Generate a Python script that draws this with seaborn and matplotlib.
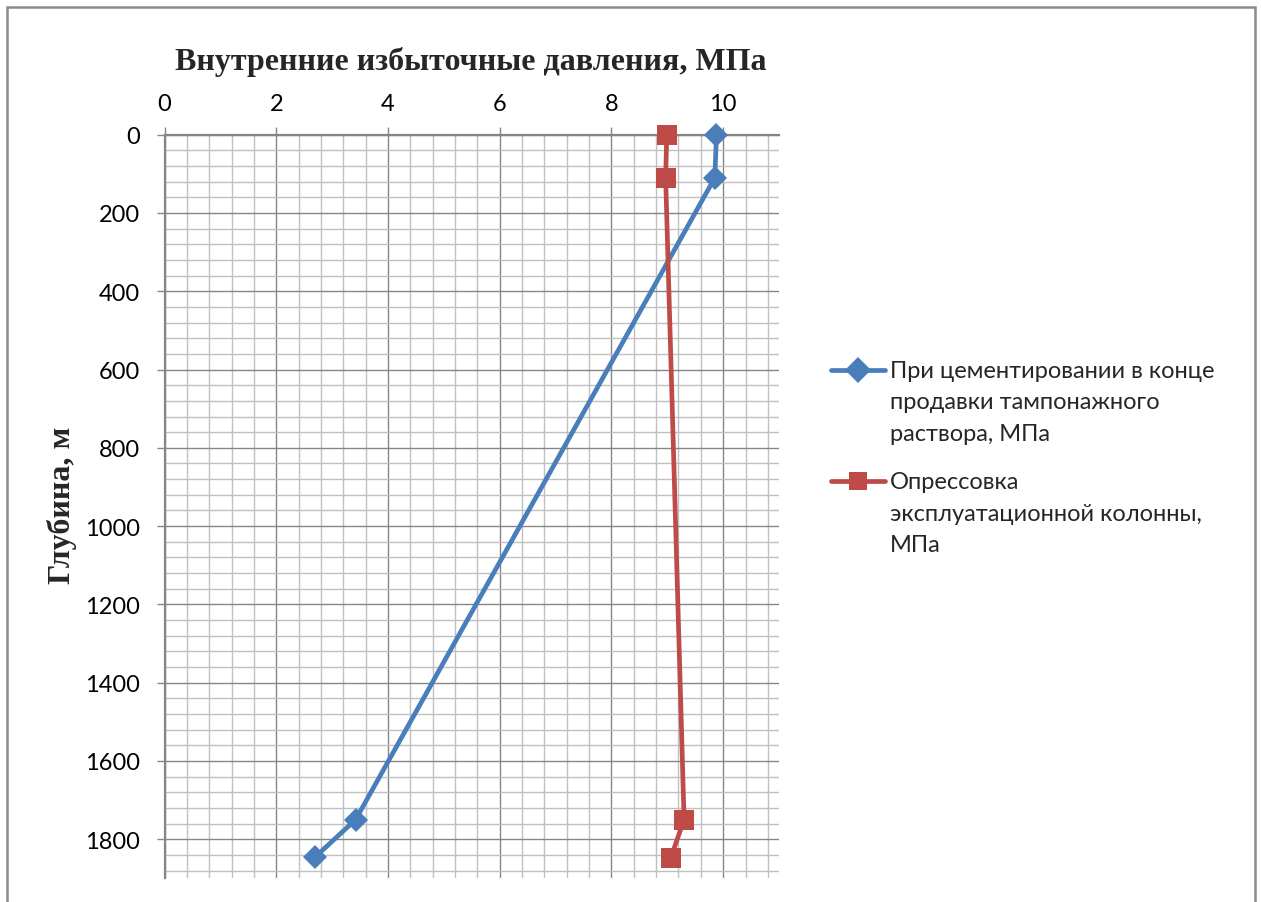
import numpy as np
import pandas as pd
import seaborn as sns
import matplotlib.pyplot as plt
from matplotlib.ticker import MultipleLocator
from matplotlib.patches import Rectangle

# Internal excess pressure profiles along the casing
depth_cement = [0, 110, 1750, 1845]
pressure_cement = [9.88, 9.85, 3.42, 2.70]
depth_test = [0, 110, 1750, 1848]
pressure_test = [8.99, 8.97, 9.30, 9.06]

label_cement = "При цементировании в конце\nпродавки тампонажного\nраствора, МПа"
label_test = "Опрессовка\nэксплуатационной колонны,\nМПа"

title_text = "Внутренние избыточные давления, МПа"
ylabel_text = "Глубина, м"

x_major = [0, 2, 4, 6, 8, 10]
y_major = [0, 200, 400, 600, 800, 1000, 1200, 1400, 1600, 1800]

df = pd.concat([
    pd.DataFrame({"p": pressure_cement, "h": depth_cement, "s": label_cement}),
    pd.DataFrame({"p": pressure_test, "h": depth_test, "s": label_test}),
], ignore_index=True)

sns.set_theme(style="white")
plt.rcParams["font.family"] = ["Lato", "DejaVu Sans"]

fig = plt.figure(figsize=(12.61, 9.03), dpi=100)
ax = fig.add_axes([0.1305, 0.0262, 0.4873, 0.8235])

blue = "#4A7EBB"
red = "#BE4B48"
ax.set_axisbelow(True)
sns.lineplot(data=df, x="p", y="h", hue="s", style="s", sort=False, estimator=None,
             palette=[blue, red], markers=["D", "s"], dashes=False,
             linewidth=3.4, markersize=13, markeredgewidth=0, ax=ax)
for ln, ms in zip(ax.lines, [12.5, 14.5]):
    ln.set_markersize(ms)
    ln.set_clip_on(False)
    ln.set_zorder(5)

# major step 2 / 200, minor step one fifth of that
ax.set_xlim(0, 11)
ax.set_ylim(1900, 0)
ax.xaxis.set_minor_locator(MultipleLocator(0.4))
ax.yaxis.set_minor_locator(MultipleLocator(40))
ax.set_xticks(x_major)
ax.set_yticks(y_major)

ax.grid(which="minor", color="#C0C0C0", linewidth=1.0)
ax.grid(which="major", color="#868686", linewidth=1.0)

ax.xaxis.tick_top()
ax.tick_params(axis="x", which="major", top=True, bottom=False, length=6, width=1.0,
               color="#868686", pad=9, labelsize=17, labelcolor="black")
ax.tick_params(axis="y", which="major", left=True, length=5.5, width=1.0,
               color="#868686", pad=12, labelsize=17, labelcolor="black")
ax.tick_params(which="minor", length=0)

for side in ["right", "bottom"]:
    ax.spines[side].set_visible(False)
for side in ["top", "left"]:
    ax.spines[side].set_color("#868686")
    ax.spines[side].set_linewidth(1.6)

ax.set_xlabel("")
ax.set_ylabel("")
fig.text(0.3735, 1 - 62 / 903, title_text, ha="center", va="center",
         fontsize=23, fontweight="bold", family="Liberation Serif")
fig.text(62 / 1261, 1 - 505 / 903, ylabel_text, ha="center", va="center",
         rotation=90, fontsize=23, fontweight="bold", family="Liberation Serif")

handles, labels = ax.get_legend_handles_labels()
leg = ax.legend(handles, labels, loc="upper left", bbox_to_anchor=(819 / 1261, 1 - 349 / 903),
                bbox_transform=fig.transFigure, frameon=False, fontsize=17,
                handlelength=2.3, handleheight=1.2, handletextpad=0.2,
                labelspacing=1.15, borderpad=0)
for t in leg.get_texts():
    t.set_linespacing(1.62)
# keep each legend key level with the first line of its label
for col in leg._legend_handle_box.get_children():
    for item in col.get_children():
        item.align = "top"

fig.patches.append(Rectangle((7 / 1261, -0.05), 1248 / 1261, 1.05 - 8 / 903,
                             transform=fig.transFigure, fill=False,
                             edgecolor="#8C8C8C", linewidth=1.8))

fig.savefig("out.png", dpi=100)
